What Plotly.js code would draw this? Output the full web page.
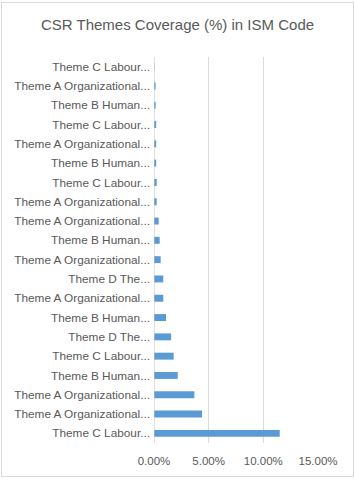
<!DOCTYPE html>
<html>
<head>
<meta charset="utf-8">
<script src="https://cdn.plot.ly/plotly-3.0.1.min.js"></script>
<style>
html, body { margin: 0; padding: 0; background: #ffffff; }
#chart { position: absolute; left: 0; top: 0; width: 355px; height: 480px; }
#frame { position: absolute; left: 1px; top: 2px; width: 351px; height: 473px; border: 1px solid #d9d9d9; pointer-events: none; }
</style>
</head>
<body>
<div id="chart"></div>
<div id="frame"></div>
<script>
// Categories listed top to bottom as shown in the chart
const categories = [
  "Theme C Labour...",
  "Theme A Organizational...",
  "Theme B Human...",
  "Theme C Labour...",
  "Theme A Organizational...",
  "Theme B Human...",
  "Theme C Labour...",
  "Theme A Organizational...",
  "Theme A Organizational...",
  "Theme B Human...",
  "Theme A Organizational...",
  "Theme D The...",
  "Theme A Organizational...",
  "Theme B Human...",
  "Theme D The...",
  "Theme C Labour...",
  "Theme B Human...",
  "Theme A Organizational...",
  "Theme A Organizational...",
  "Theme C Labour..."
];
// Coverage values (fraction, displayed as %)
const coverage = [
  0.0003, 0.0015, 0.0015, 0.0020, 0.0020, 0.0020, 0.0025, 0.0025, 0.0043, 0.0052,
  0.0061, 0.0085, 0.0085, 0.0110, 0.0156, 0.0180, 0.0217, 0.0369, 0.0439, 0.1150
];
const xTickValues = [0, 0.05, 0.10, 0.15];
const xTickLabels = ["0.00%", "5.00%", "10.00%", "15.00%"];

const positions = categories.map((_, i) => i);

const trace = {
  type: "bar",
  orientation: "h",
  x: coverage,
  y: positions,
  marker: { color: "#5b9bd5" },
  hoverinfo: "x",
  showlegend: false
};

const layout = {
  width: 355,
  height: 480,
  margin: { l: 154, r: 37, t: 57, b: 37, pad: 0 },
  paper_bgcolor: "rgba(0,0,0,0)",
  plot_bgcolor: "rgba(0,0,0,0)",
  bargap: 0.64,
  font: { family: "Liberation Sans, Arial, sans-serif", color: "#595959", size: 11.8 },
  title: {
    text: "CSR Themes Coverage (%) in ISM Code",
    font: { family: "Liberation Sans, Arial, sans-serif", size: 15, color: "#595959" },
    x: 0.5, xref: "container", xanchor: "center",
    y: 1 - 25 / 480, yref: "container", yanchor: "middle"
  },
  xaxis: {
    range: [0, 0.15],
    tickvals: xTickValues,
    ticktext: xTickLabels,
    showgrid: true,
    gridcolor: "#d9d9d9",
    gridwidth: 1,
    zeroline: false,
    showline: false,
    ticks: "",
    ticklabelstandoff: 9,
    tickfont: { size: 11.5, color: "#595959" },
    fixedrange: true
  },
  yaxis: {
    range: [categories.length - 0.5, -0.5],
    tickvals: positions,
    ticktext: categories,
    showgrid: false,
    zeroline: false,
    showline: false,
    ticks: "",
    ticklabelstandoff: 3,
    tickfont: { size: 11.8, color: "#595959" },
    fixedrange: true
  },
  shapes: [
    { type: "line", xref: "x", yref: "paper", x0: 0, x1: 0, y0: 0, y1: 1,
      line: { color: "#bfbfbf", width: 1 } }
  ]
};

Plotly.newPlot("chart", [trace], layout, { displayModeBar: false, staticPlot: true });
</script>
</body>
</html>
